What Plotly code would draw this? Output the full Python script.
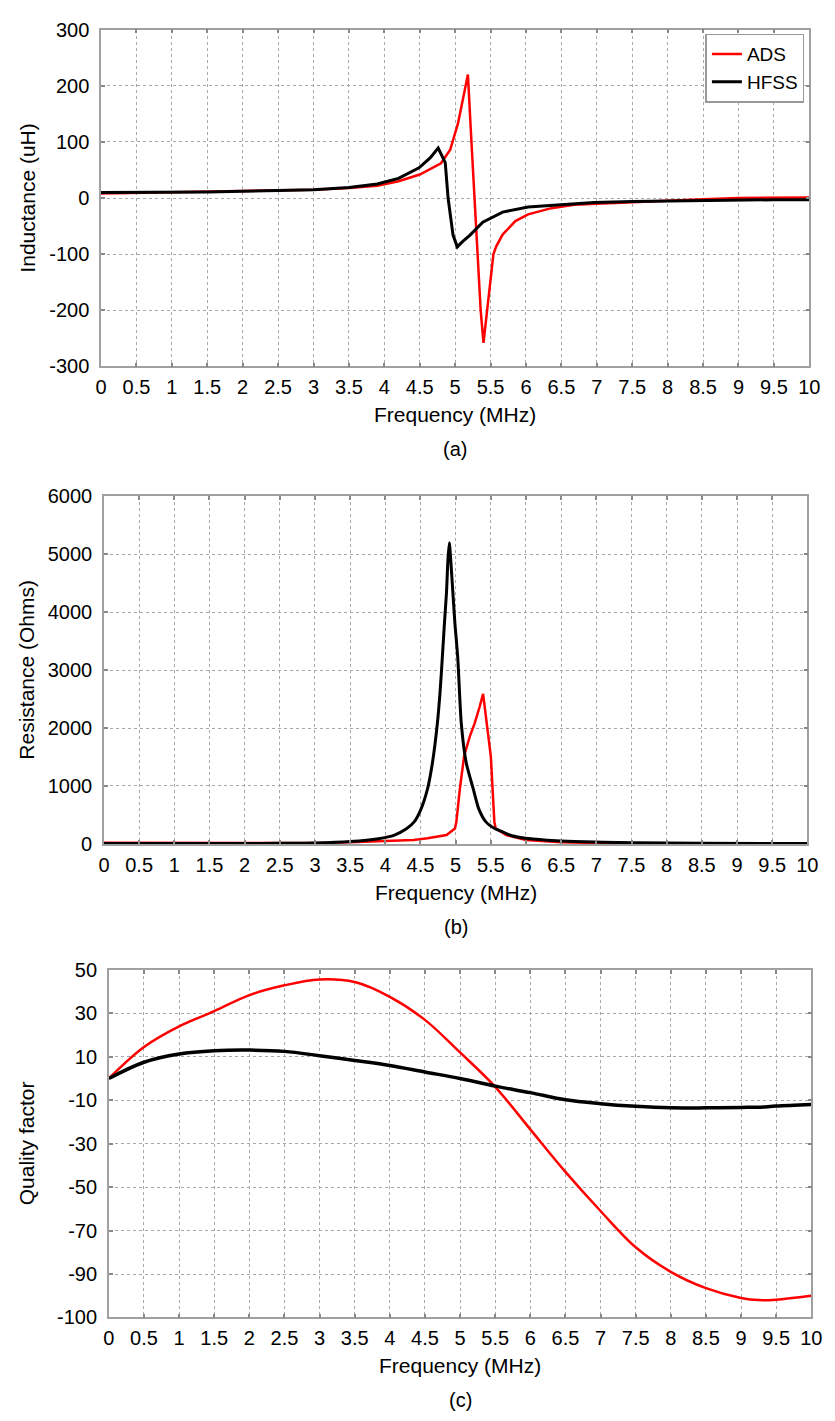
import plotly.graph_objects as go

# ---------------- data ----------------
# (a) Inductance (uH)
ind_freq_ads = [0, 0.5, 1, 1.5, 2, 2.5, 3, 3.5, 3.9, 4.2, 4.5, 4.8, 4.93, 5.04, 5.11, 5.18,
                5.23, 5.27, 5.31, 5.36, 5.40, 5.45, 5.54, 5.58, 5.67, 5.85, 6.03, 6.36, 6.68,
                7.0, 7.5, 8, 8.5, 9, 9.5, 10]
ind_ads = [8, 9, 10, 11, 12, 13, 15, 18, 22, 30, 42, 62, 86, 133, 175, 220,
           100, 0, -100, -200, -258, -200, -100, -86, -65, -41, -29, -18, -12,
           -10, -7, -4, -2, 0, 1, 1]

ind_freq_hfss = [0, 0.5, 1, 1.5, 2, 2.5, 3, 3.5, 3.9, 4.2, 4.49, 4.65, 4.76, 4.86, 4.90, 4.97,
                 5.03, 5.1, 5.21, 5.39, 5.67, 6.03, 6.5, 6.96, 7.5, 8, 8.5, 9, 9.5, 10]
ind_hfss = [10, 10, 11, 11, 12, 13, 15, 19, 25, 35, 54, 72, 89, 63, 0, -66,
            -87, -78, -66, -43, -25, -16, -12, -8, -6, -5, -4, -4, -3, -3]

# (b) Resistance (Ohms)
res_freq_ads = [0, 1, 2, 3, 3.5, 3.9, 4.4, 4.6, 4.87, 4.99, 5.01, 5.06, 5.12, 5.20, 5.27, 5.34,
                5.39, 5.50, 5.55, 5.57, 5.72, 6.0, 6.5, 7, 8, 9, 10]
res_ads = [20, 18, 15, 15, 30, 50, 68, 97, 153, 267, 380, 950, 1513, 1853, 2080, 2363,
           2590, 1513, 380, 267, 153, 68, 30, 15, 8, 5, 3]

res_freq_hfss = [0, 1, 2, 2.5, 3, 3.5, 3.9, 4.13, 4.3, 4.41, 4.50, 4.60, 4.67, 4.74, 4.78, 4.81,
                 4.84, 4.87, 4.89, 4.91, 4.93, 4.96, 4.99, 5.03, 5.08, 5.15, 5.25, 5.33, 5.43,
                 5.55, 5.66, 5.8, 5.99, 6.3, 6.69, 7.5, 8.5, 10]
res_hfss = [5, 6, 8, 10, 15, 40, 90, 153, 260, 380, 580, 950, 1400, 2080, 2650, 3213,
            3800, 4346, 4900, 5200, 4900, 4346, 3800, 3213, 2080, 1400, 950, 600, 380,
            270, 210, 140, 97, 65, 40, 20, 10, 5]

# (c) Quality factor
q_freq = [0, 0.5, 1, 1.5, 2, 2.5, 3, 3.5, 4, 4.5, 5, 5.5, 6, 6.5, 7, 7.5, 8, 8.5, 9, 9.25, 9.5, 10]
q_ads = [0, 14.5, 24, 31, 38.4, 42.9, 45.6, 44.4, 37.6, 27, 12, -3.8, -23.4, -43, -61, -77.7,
         -89, -96.5, -101, -102, -101.8, -100]
q_hfss = [0, 7.5, 11.3, 12.8, 13.1, 12.5, 10.5, 8.3, 6, 3, 0, -3.5, -6.5, -9.8, -11.6, -12.8,
          -13.5, -13.5, -13.3, -13.2, -12.7, -12]

# tick labels
freq_ticks = [i * 0.5 for i in range(21)]
ind_tickvals = [-300, -200, -100, 0, 100, 200, 300]
ind_ticktext = ["-300", "-200", "-100", "0", "100", "200", "300"]
res_tickvals = [0, 1000, 2000, 3000, 4000, 5000, 6000]
res_ticktext = ["0", "1000", "2000", "3000", "4000", "5000", "6000"]
q_tickvals = [50, 30, 10, -10, -30, -50, -70, -90, -110]
q_ticktext = ["50", "30", "10", "-10", "-30", "-50", "-70", "-90", "-100"]

series_names = ["ADS", "HFSS"]
series_colors = ["#ff0000", "#000000"]

# ---------------- layout helpers ----------------
W, H = 835, 1421
FONT = "Arial, Liberation Sans, sans-serif"


def xdom(l, r):
    return [l / W, r / W]


def ydom(top, bottom):
    return [1 - bottom / H, 1 - top / H]


panels = {
    "a": dict(x=(97, 820), y=(19, 361)),
    "b": dict(x=(100, 818), y=(493, 846)),
    "c": dict(x=(105, 822), y=(974, 1327)),
}

fig = go.Figure()

fig.add_trace(go.Scatter(x=ind_freq_ads, y=ind_ads, mode="lines", name=series_names[0],
                         line=dict(color=series_colors[0], width=2.5), xaxis="x", yaxis="y"))
fig.add_trace(go.Scatter(x=ind_freq_hfss, y=ind_hfss, mode="lines", name=series_names[1],
                         line=dict(color=series_colors[1], width=3), xaxis="x", yaxis="y"))
fig.add_trace(go.Scatter(x=res_freq_ads, y=res_ads, mode="lines", name=series_names[0], showlegend=False,
                         line=dict(color=series_colors[0], width=2.5), xaxis="x2", yaxis="y2"))
fig.add_trace(go.Scatter(x=res_freq_hfss, y=res_hfss, mode="lines", name=series_names[1], showlegend=False,
                         line=dict(color=series_colors[1], width=3, shape="spline", smoothing=0.6),
                         xaxis="x2", yaxis="y2"))
fig.add_trace(go.Scatter(x=q_freq, y=q_ads, mode="lines", name=series_names[0], showlegend=False,
                         line=dict(color=series_colors[0], width=2.5, shape="spline"), xaxis="x3", yaxis="y3"))
fig.add_trace(go.Scatter(x=q_freq, y=q_hfss, mode="lines", name=series_names[1], showlegend=False,
                         line=dict(color=series_colors[1], width=3.5, shape="spline"), xaxis="x3", yaxis="y3"))

common = dict(
    showgrid=True, gridcolor="#a8a8a8", griddash="dot", gridwidth=1.2,
    showline=True, linecolor="#a0a0a0", linewidth=1.5, mirror="ticks",
    ticks="inside", ticklen=4, tickcolor="#888888", tickwidth=1.5,
    zeroline=False, tickfont=dict(family=FONT, size=20, color="#000"),
)

xcommon = dict(common, range=[0, 10], tickvals=freq_ticks, ticklabelstandoff=2)

layout = dict(
    width=W, height=H, margin=dict(l=0, r=0, t=0, b=0),
    paper_bgcolor="white", plot_bgcolor="white", font=dict(family=FONT, color="#000"),
    xaxis=dict(xcommon, domain=xdom(*panels["a"]["x"]), anchor="y"),
    yaxis=dict(common, domain=ydom(*panels["a"]["y"]), anchor="x", range=[-300, 300],
               tickvals=ind_tickvals, ticktext=ind_ticktext, ticklabelstandoff=6),
    xaxis2=dict(xcommon, domain=xdom(*panels["b"]["x"]), anchor="y2"),
    yaxis2=dict(common, domain=ydom(*panels["b"]["y"]), anchor="x2", range=[0, 6000],
                tickvals=res_tickvals, ticktext=res_ticktext, ticklabelstandoff=6),
    xaxis3=dict(xcommon, domain=xdom(*panels["c"]["x"]), anchor="y3"),
    yaxis3=dict(common, domain=ydom(*panels["c"]["y"]), anchor="x3", range=[-110, 50],
                tickvals=q_tickvals, ticktext=q_ticktext, ticklabelstandoff=6),
    showlegend=True,
    legend=dict(x=815 / W, y=1 - 23 / H, xanchor="right", yanchor="top",
                bgcolor="white", bordercolor="#999999", borderwidth=1.5,
                font=dict(family=FONT, size=19, color="#000"), itemwidth=30,
                tracegroupgap=0),
)
fig.update_layout(**layout)

ytitles = {"a": "Inductance (uH)", "b": "Resistance (Ohms)", "c": "Quality factor"}
captions = {"a": "(a)", "b": "(b)", "c": "(c)"}
annots = []
for k, p in panels.items():
    cx = (p["x"][0] + p["x"][1]) / 2
    top, bot = p["y"]
    annots.append(dict(text="Frequency (MHz)", x=cx / W, y=1 - (bot + 49) / H, xref="paper", yref="paper",
                       xanchor="center", yanchor="middle", showarrow=False,
                       font=dict(family=FONT, size=21, color="#000")))
    annots.append(dict(text=captions[k], x=cx / W, y=1 - (bot + 84) / H, xref="paper", yref="paper",
                       xanchor="center", yanchor="middle", showarrow=False,
                       font=dict(family=FONT, size=20, color="#000")))
    annots.append(dict(text=ytitles[k], x=21 / W, y=1 - ((top + bot) / 2) / H, xref="paper", yref="paper",
                       xanchor="center", yanchor="middle", textangle=-90, showarrow=False,
                       font=dict(family=FONT, size=21, color="#000")))
fig.update_layout(annotations=annots)

fig.write_html(
    "out.html",
    config={"displayModeBar": False},
    post_script="document.body.style.margin='0';document.body.style.overflow='hidden';"
                "document.documentElement.style.overflow='hidden';",
)
